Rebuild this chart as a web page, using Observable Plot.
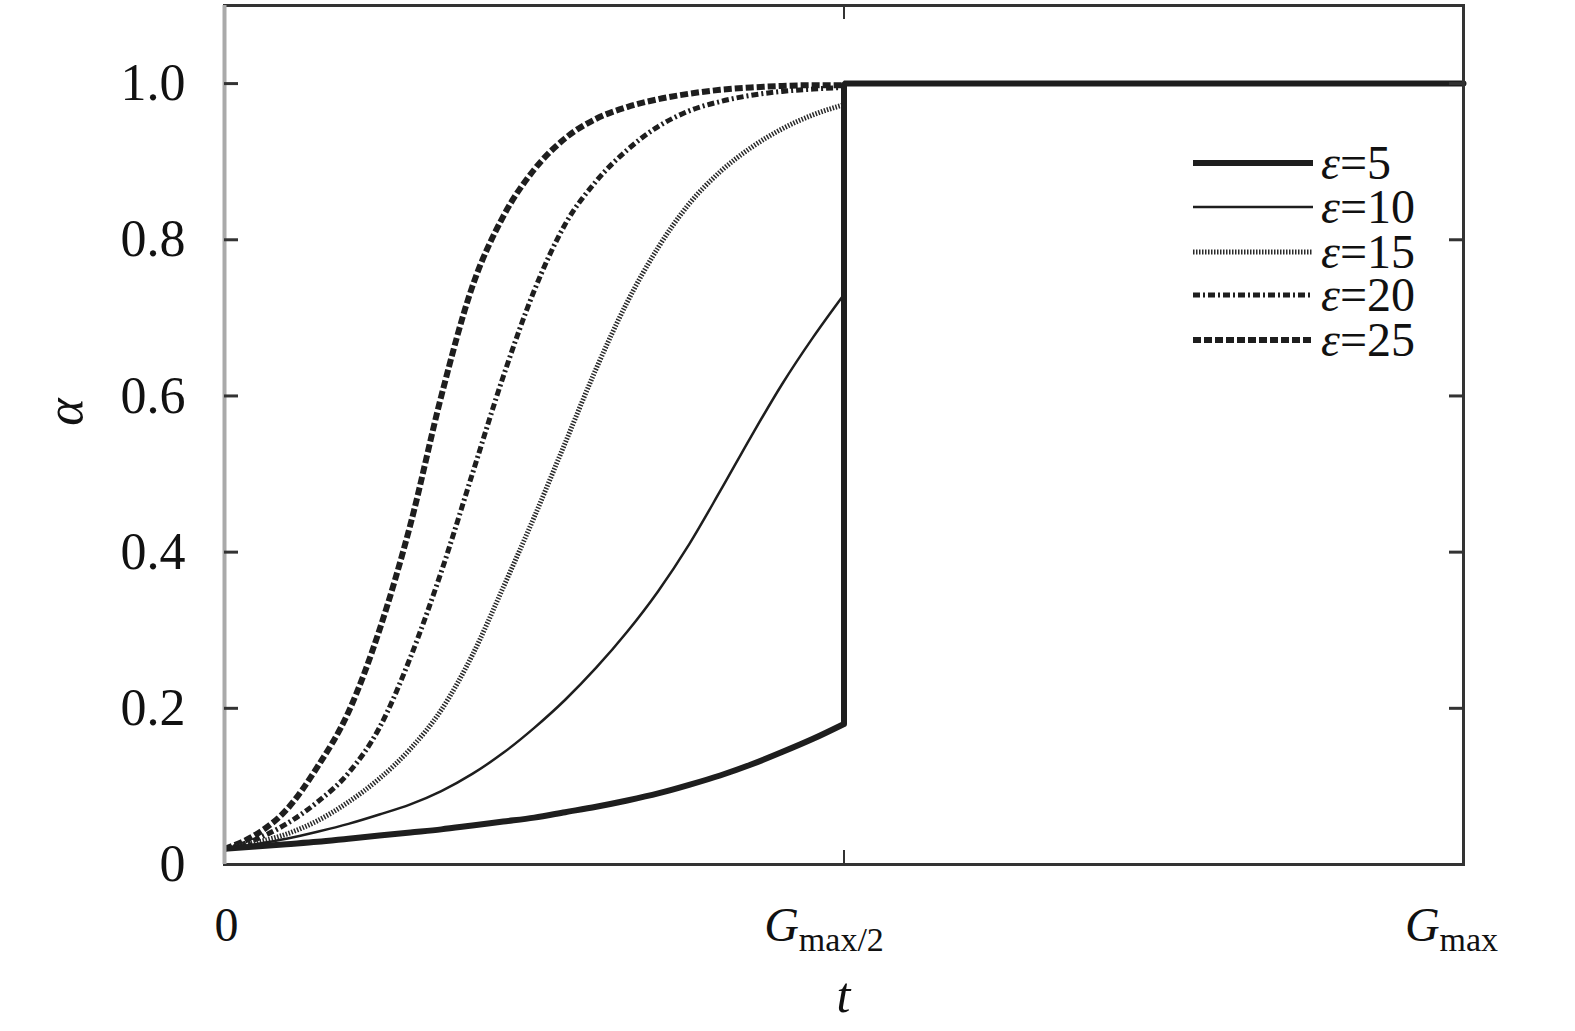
<!DOCTYPE html>
<html>
<head>
<meta charset="utf-8">
<script src="https://cdn.jsdelivr.net/npm/d3@7"></script>
<script src="https://cdn.jsdelivr.net/npm/@observablehq/plot@0.6"></script>
<style>
  html, body { margin: 0; padding: 0; background: #fff; overflow: hidden; }
  #chart { position: relative; width: 1575px; height: 1031px; }
</style>
</head>
<body>
<div id="chart"></div>
<script>
// ---- data ----
const tGrid = [0, 0.025, 0.05, 0.075, 0.1, 0.125, 0.15, 0.175, 0.2, 0.225, 0.25,
               0.275, 0.3, 0.325, 0.35, 0.375, 0.4, 0.425, 0.45, 0.475, 0.5];
const eps5  = [0.020,0.023,0.026,0.029,0.033,0.037,0.041,0.045,0.050,0.055,0.060,0.067,0.074,0.082,0.091,0.102,0.114,0.128,0.144,0.161,0.180];
const eps10 = [0.020,0.026,0.033,0.042,0.052,0.064,0.077,0.094,0.116,0.143,0.175,0.211,0.252,0.298,0.350,0.410,0.478,0.548,0.615,0.675,0.730];
const eps15 = [0.020,0.028,0.039,0.056,0.080,0.110,0.148,0.198,0.268,0.355,0.445,0.540,0.635,0.720,0.790,0.846,0.887,0.918,0.942,0.960,0.973];
const eps20 = [0.020,0.032,0.052,0.080,0.117,0.175,0.265,0.375,0.500,0.625,0.735,0.820,0.875,0.915,0.945,0.965,0.977,0.985,0.990,0.993,0.995];
const eps25 = [0.020,0.038,0.070,0.125,0.195,0.300,0.435,0.600,0.740,0.830,0.890,0.930,0.955,0.970,0.980,0.987,0.992,0.995,0.997,0.998,0.998];
// after t = Gmax/2 every curve switches to alpha = 1
const stepT = [0.5, 0.5, 1.0];
const stepA = [0.180, 1.0, 1.0];

const seriesNames = ["ε=5", "ε=10", "ε=15", "ε=20", "ε=25"];
const seriesValues = [eps5, eps10, eps15, eps20, eps25];
const yTicks = [0, 0.2, 0.4, 0.6, 0.8, 1.0];
const xTicks = [0, 0.5, 1];
const xTickLabels = [["0", ""], ["G", "max/2"], ["G", "max"]];

// ---- styles ----
const ink = "#1e1e1e";
const styles = [
  {strokeWidth: 6,   dash: null,      color: ink},
  {strokeWidth: 2.5, dash: null,      color: ink},
  {strokeWidth: 5,   dash: "1.5,1.5", color: "#2a2a2a"},
  {strokeWidth: 5,   dash: "7,3,2,3", color: ink},
  {strokeWidth: 6,   dash: "8,3",     color: ink}
];

const W = 1575, H = 1031;
const mL = 224, mR = 112, mT = 5, mB = 167;
const innerW = W - mL - mR, innerH = H - mT - mB;

const tables = seriesValues.map(vals => tGrid.map((t, i) => ({t, a: vals[i]})));
const stepTable = stepT.map((t, i) => ({t, a: stepA[i]}));

const curveMarks = [];
for (let k = seriesValues.length - 1; k >= 0; k--) {
  curveMarks.push(Plot.line(tables[k], {
    x: "t", y: "a", curve: "monotone-x",
    stroke: styles[k].color, strokeWidth: styles[k].strokeWidth,
    strokeDasharray: styles[k].dash || undefined,
    strokeLinecap: "butt"
  }));
}

const yInner = yTicks.filter(d => d > 0);

const chart = Plot.plot({
  width: W, height: H,
  marginLeft: mL, marginRight: mR, marginTop: mT, marginBottom: mB,
  x: {domain: [0, 1]},
  y: {domain: [0, 1.1]},
  style: {fontFamily: "'Liberation Serif', 'Times New Roman', serif", background: "#fff", color: "#111"},
  marks: [
    ...curveMarks,
    Plot.line(stepTable, {x: "t", y: "a", stroke: ink, strokeWidth: 6, strokeLinejoin: "miter"}),
    Plot.frame({stroke: "#333", strokeWidth: 3}),
    Plot.ruleX([0], {stroke: "#aaa", strokeWidth: 4}),
    // inward ticks
    Plot.ruleY(yInner, {stroke: "#333", strokeWidth: 3, insetRight: innerW - 14}),
    Plot.ruleY(yInner, {stroke: "#333", strokeWidth: 3, insetLeft: innerW - 14}),
    Plot.ruleX([0.5], {stroke: "#333", strokeWidth: 2, insetBottom: innerH - 14}),
    Plot.ruleX([0.5], {stroke: "#333", strokeWidth: 2, insetTop: innerH - 14}),
    Plot.axisY({ticks: yTicks, tickSize: 0, tickPadding: 39, fontSize: 52,
                tickFormat: d => d === 0 ? "0" : d.toFixed(1), label: null}),
    Plot.axisX({ticks: xTicks, tickSize: 0, tickPadding: 42, fontSize: 48,
                tickFormat: d => String(d), label: null})
  ]
});

const root = document.getElementById("chart");
root.appendChild(chart);
const svg = d3.select(chart.tagName.toLowerCase() === "svg" ? chart : chart.querySelector("svg"));

// subscripted x tick labels
const dxs = [2, -20, -12];
svg.selectAll('g[aria-label="x-axis tick label"] text').each(function(d, i) {
  const [main, sub] = xTickLabels[i];
  const el = d3.select(this);
  el.text(null);
  el.attr("transform", (el.attr("transform") || "") + ` translate(${dxs[i]},0)`);
  el.append("tspan").attr("font-style", main === "0" ? "normal" : "italic").text(main);
  if (sub) el.append("tspan").attr("font-size", 34).attr("dy", "0.3em").text(sub);
});

const font = "'Liberation Serif', 'Times New Roman', serif";
// axis titles
svg.append("text").attr("x", mL + innerW / 2).attr("y", 1012)
  .attr("text-anchor", "middle").attr("font-family", font).attr("font-size", 50)
  .attr("font-style", "italic").attr("fill", "#111").text("t");
svg.append("text").attr("transform", "translate(82,412) rotate(-90)")
  .attr("text-anchor", "middle").attr("font-family", font).attr("font-size", 52)
  .attr("font-style", "italic").attr("fill", "#111").text("α");

// legend
const legY = [163, 207, 252, 295, 340];
const lg = svg.append("g").attr("text-anchor", "start");
seriesNames.forEach((name, k) => {
  lg.append("line").attr("x1", 1193).attr("x2", 1313).attr("y1", legY[k]).attr("y2", legY[k])
    .attr("stroke", styles[k].color).attr("stroke-width", styles[k].strokeWidth)
    .attr("stroke-dasharray", styles[k].dash).attr("stroke-linecap", "butt");
  const tx = lg.append("text").attr("x", 1321).attr("y", legY[k] + 16)
    .attr("text-anchor", "start")
    .attr("font-family", font).attr("font-size", 48).attr("fill", "#111");
  tx.append("tspan").attr("font-style", "italic").text("ε");
  tx.append("tspan").text(name.slice(1));
});
</script>
</body>
</html>
